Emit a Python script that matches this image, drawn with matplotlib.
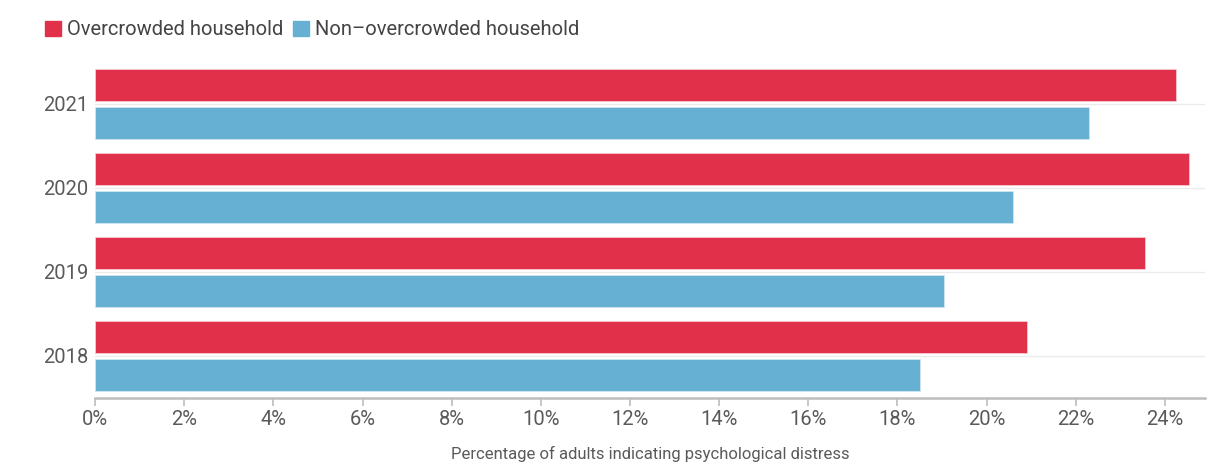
import numpy as np
import matplotlib
matplotlib.use("Agg")
import matplotlib.pyplot as plt
from matplotlib.patches import Patch
from matplotlib.ticker import FuncFormatter

plt.rcParams['font.family'] = ['Roboto', 'DejaVu Sans']

# data
years = ['2018', '2019', '2020', '2021']
overcrowded = [20.9, 23.55, 24.55, 24.25]
non_overcrowded = [18.5, 19.05, 20.6, 22.3]
series_names = ['Overcrowded household', 'Non\u2013overcrowded household']
x_ticks = list(range(0, 25, 2))

red = '#e0304a'
blue = '#66b0d3'
text_col = '#5a5a5a'

fig = plt.figure(figsize=(12.14, 4.66), dpi=100)
ax = fig.add_axes([0.0783, 0.146, 0.9143, 0.721])

y = np.arange(len(years))
h = 0.38
off = 0.223
ax.barh(y + off, overcrowded, height=h, color=red, edgecolor='#f6c9cf', linewidth=0.6, zorder=3)
ax.barh(y - off, non_overcrowded, height=h, color=blue, edgecolor='#cfe6f1', linewidth=0.6, zorder=3)

ax.set_xlim(0, 24.9)
ax.set_ylim(-0.5, 3.5)
ax.set_yticks(y)
ax.set_yticklabels(years)
ax.set_xticks(x_ticks)
ax.xaxis.set_major_formatter(FuncFormatter(lambda v, p: '%d%%' % v))

ax.grid(axis='y', color='#ebebeb', linewidth=1, zorder=0)
ax.grid(axis='x', visible=False)

for s in ['top', 'right', 'left']:
    ax.spines[s].set_visible(False)
ax.spines['bottom'].set_color('#bdbdbd')
ax.spines['bottom'].set_linewidth(1.8)

ax.tick_params(axis='x', colors='#bdbdbd', length=6, width=1.2, labelcolor=text_col,
               labelsize=14.5, pad=3)
ax.tick_params(axis='y', length=0, labelcolor=text_col, labelsize=14.5, pad=5)

ax.set_xlabel('Percentage of adults indicating psychological distress',
              color=text_col, fontsize=12, labelpad=12)

handles = [Patch(facecolor=red, edgecolor=red), Patch(facecolor=blue, edgecolor=blue)]
fig.legend(handles, series_names, loc='upper left', bbox_to_anchor=(0.022, 0.995),
           ncol=2, frameon=False, fontsize=14.5, handlelength=0.8, handleheight=0.8,
           handletextpad=0.3, columnspacing=0.5, labelcolor='#444444')

fig.savefig('out.png', dpi=100)
